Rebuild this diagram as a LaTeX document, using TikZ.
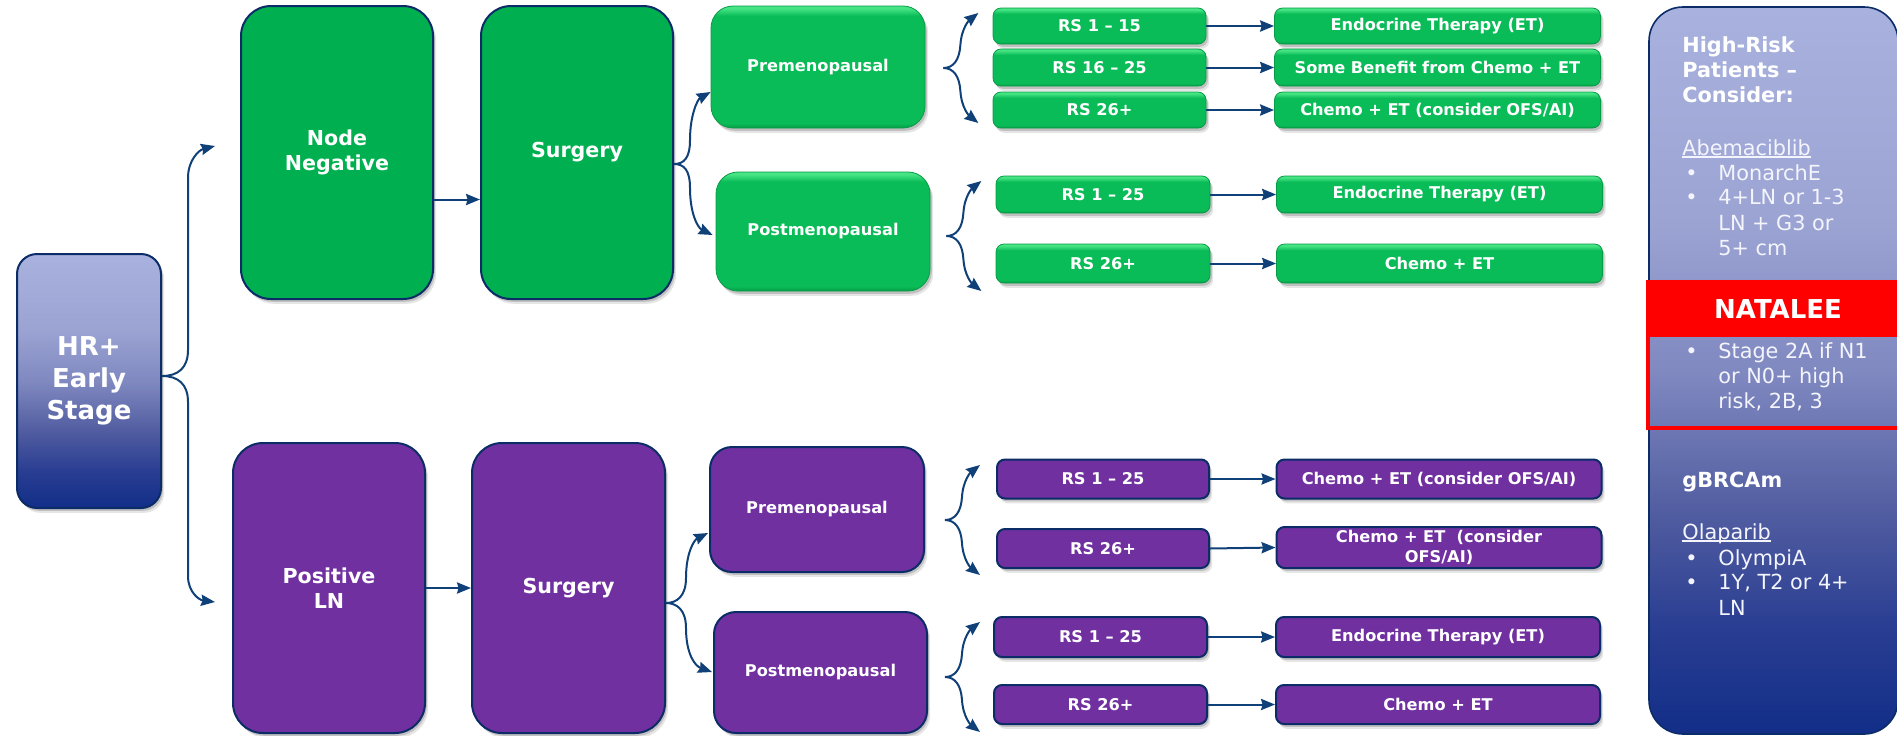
\documentclass[tikz,border=0pt]{standalone}
\usepackage{fontspec}
\setmainfont{DejaVu Sans}
\usetikzlibrary{arrows.meta,shadows,calc}

\definecolor{navyline}{RGB}{12,44,104}
\definecolor{arrowblue}{RGB}{16,64,120}
\definecolor{gbig}{RGB}{0,176,80}
\definecolor{gmain}{RGB}{10,188,88}
\definecolor{glight}{RGB}{70,228,132}
\definecolor{gdark}{RGB}{6,156,70}
\definecolor{pmain}{RGB}{112,48,160}
\definecolor{lavtop}{RGB}{169,178,222}
\definecolor{lav2}{RGB}{155,163,211}
\definecolor{lav3}{RGB}{128,137,192}
\definecolor{lav4}{RGB}{80,92,160}
\definecolor{lav5}{RGB}{42,62,146}
\definecolor{navybot}{RGB}{18,46,136}
\definecolor{paneltext}{RGB}{244,245,252}

% lavender-to-navy fade used by the stage box and the side panel
\pgfdeclareverticalshading{stagefade}{100bp}{color(0bp)=(navybot); color(25bp)=(navybot); color(32.5bp)=(lav5); color(40bp)=(lav4); color(50bp)=(lav3); color(60bp)=(lav2); color(75bp)=(lavtop); color(100bp)=(lavtop)}
% bevelled green for the small result boxes
\pgfdeclareverticalshading{greenbevel}{100bp}{color(0bp)=(gdark); color(25bp)=(gdark); color(29bp)=(gmain); color(67bp)=(gmain); color(73bp)=(glight); color(75bp)=(glight); color(100bp)=(glight)}
\pgfdeclareverticalshading{greenbeveltall}{100bp}{color(0bp)=(gdark); color(25bp)=(gdark); color(27bp)=(gmain); color(71bp)=(gmain); color(74bp)=(glight); color(75bp)=(glight); color(100bp)=(glight)}

\newcommand\ulword[1]{\setbox0=\hbox{#1}\rlap{\raisebox{-1.3pt}{\rule{\wd0}{0.6pt}}}\box0}

% curly fork: one start point, an upper and a lower arrow
\newcommand\fork[1]{%
  \draw[arr] (#1) .. controls +(10,0) and +(-1,15) .. ++(17,-23) .. controls +(1,-17) and +(-9,7) .. ++(18,-32);
  \draw[arr] (#1) .. controls +(10,0) and +(-1,-15) .. ++(17,23) .. controls +(1,17) and +(-9,-7) .. ++(18,32);
}

\tikzset{
  sz/.style 2 args={minimum width=#1*0.5pt, minimum height=#2*0.5pt},
  softshadow/.style={
    drop shadow={shadow xshift=1.6pt, shadow yshift=-2.4pt, opacity=0.10, fill=black},
    drop shadow={shadow xshift=0.9pt, shadow yshift=-1.4pt, opacity=0.16, fill=black}},
  arr/.style={draw=arrowblue, line width=1pt, -{Stealth[length=7pt,width=5.6pt,inset=0.8pt]}},
  bigbox/.style={draw=navyline, line width=1pt, rounded corners=15pt, text=white, align=center,
    font=\bfseries\fontsize{10.3}{12.5}\selectfont, inner sep=0pt, softshadow},
  gbigbox/.style={bigbox, fill=gbig},
  pbigbox/.style={bigbox, fill=pmain},
  hrbox/.style={draw=navyline, line width=1pt, rounded corners=10pt, shade, shading=stagefade,
    text=white, align=center, font=\bfseries\fontsize{13}{16}\selectfont, inner sep=0pt, softshadow},
  smallbox/.style={text=white, align=center, font=\bfseries\fontsize{8.1}{10}\selectfont, inner sep=0pt, softshadow},
  gmeno/.style={smallbox, rounded corners=11pt, shade, shading=greenbeveltall, draw=gdark, line width=0.4pt},
  pmeno/.style={smallbox, rounded corners=11pt, fill=pmain, draw=navyline, line width=1pt},
  grs/.style={smallbox, rounded corners=4pt, shade, shading=greenbevel, draw=gdark, line width=0.4pt},
  prs/.style={smallbox, rounded corners=4pt, fill=pmain, draw=navyline, line width=1pt},
  ptxt/.style={anchor=base west, inner sep=0pt, text=paneltext, font=\fontsize{10.4}{12.5}\selectfont},
  pbold/.style={ptxt, text=white, font=\bfseries\fontsize{10.4}{12.5}\selectfont},
}

\begin{document}
\begin{tikzpicture}[x=0.5pt, y=-0.5pt]
\useasboundingbox (0,0) rectangle (1897,735);

% ---- stage and main branches ----
\node[hrbox, sz={144}{254}] (hr) at (89,381) {HR+\\Early\\Stage};
\node[gbigbox, sz={192}{293}] (nn) at (337,152.5) {Node\\Negative};
\node[gbigbox, sz={192}{293}] (s1) at (577,152.5) {Surgery};
\node[pbigbox, sz={192}{290}] (pl) at (329,588) {Positive\\LN};
\node[pbigbox, sz={193}{290}] (s2) at (568.5,588) {Surgery};

% ---- menopausal status ----
\node[gmeno, sz={214}{122}] (pre1) at (818,67) {Premenopausal};
\node[gmeno, sz={214}{119}] (post1) at (823,231.5) {Postmenopausal};
\node[pmeno, sz={214}{125}] (pre2) at (817,509.5) {Premenopausal};
\node[pmeno, sz={213}{121}] (post2) at (820.5,672.5) {Postmenopausal};

% ---- recurrence score and therapy, node negative ----
\node[grs, sz={213}{36}] (a1) at (1099.5,26) {RS 1 – 15};
\node[grs, sz={213}{37}] (a2) at (1099.5,67.5) {RS 16 – 25};
\node[grs, sz={213}{36}] (a3) at (1099.5,110) {RS 26+};
\node[grs, sz={326}{36}] (e1) at (1437.5,26) {Endocrine Therapy (ET)};
\node[grs, sz={326}{37}] (e2) at (1437.5,67.5) {Some Benefit from Chemo + ET};
\node[grs, sz={326}{36}] (e3) at (1437.5,110) {Chemo + ET (consider OFS/AI)};
\node[grs, sz={214}{37}] (b1) at (1103,194.5) {RS 1 – 25};
\node[grs, sz={214}{39}] (b2) at (1103,263.5) {RS 26+};
\node[grs, sz={326}{37}] (f1) at (1439.5,194.5) {Endocrine Therapy (ET)};
\node[grs, sz={326}{39}] (f2) at (1439.5,263.5) {Chemo + ET};

% ---- recurrence score and therapy, positive LN ----
\node[prs, sz={212}{39}] (c1) at (1103,479) {RS 1 – 25};
\node[prs, sz={212}{39}] (c2) at (1103,548.5) {RS 26+};
\node[prs, sz={325}{39}] (g1) at (1439,479) {Chemo + ET (consider OFS/AI)};
\node[prs, sz={325}{41}] (g2) at (1439,547.5) {Chemo + ET\ \ (consider\\OFS/AI)};
\node[prs, sz={213}{40}] (d1) at (1100.5,637) {RS 1 – 25};
\node[prs, sz={213}{39}] (d2) at (1100.5,704.5) {RS 26+};
\node[prs, sz={324}{40}] (h1) at (1438,637) {Endocrine Therapy (ET)};
\node[prs, sz={324}{39}] (h2) at (1438,704.5) {Chemo + ET};

% ---- connectors ----
\coordinate (hrf) at ($(hr.east)+(0,-5)$);
\coordinate (nnin) at ($(nn.west)+(-25,-6.5)$);
\coordinate (plin) at ($(pl.west)+(-17,14)$);
\draw[arr] (hrf) .. controls (178,376) and (188,368) .. (188,350) -- (188,178)
  .. controls (188,160) and (199,150) .. (nnin);
\draw[arr] (hrf) .. controls (178,376) and (188,384) .. (188,402) -- (188,576)
  .. controls (188,592) and (199,600) .. (plin);

\draw[arr] ($(nn.east)+(0,47)$) -- ($(s1.west)+(0,47)$);
\draw[arr] (pl.east) -- (s2.west);

\coordinate (s1f) at ($(s1.east)+(0,11.5)$);
\coordinate (pre1in) at ($(pre1.west)+(0,25)$);
\coordinate (post1in) at ($(post1.west)+(-3,3.5)$);
\draw[arr] (s1f) .. controls (684,164) and (690,158) .. (690,140)
  .. controls (690,114) and (698,99) .. (pre1in);
\draw[arr] (s1f) .. controls (684,164) and (690,170) .. (690,188)
  .. controls (690,214) and (698,228) .. (post1in);

\coordinate (s2f) at ($(s2.east)+(0,15)$);
\coordinate (pre2in) at ($(pre2.west)+(-1,23.5)$);
\coordinate (post2in) at ($(post2.west)+(-1,-0.5)$);
\draw[arr] (s2f) .. controls (677,603) and (686,596) .. (686,578)
  .. controls (686,553) and (694,540) .. (pre2in);
\draw[arr] (s2f) .. controls (677,603) and (686,610) .. (686,628)
  .. controls (686,654) and (695,666) .. (post2in);

\coordinate (pre1f) at ($(pre1.east)+(18,1)$);
\coordinate (post1f) at ($(post1.east)+(16,4.5)$);
\coordinate (pre2f) at ($(pre2.east)+(20,10.5)$);
\coordinate (post2f) at ($(post2.east)+(17,4.5)$);
\fork{pre1f}
\fork{post1f}
\fork{pre2f}
\fork{post2f}

\foreach \r/\t in {a1/e1,a2/e2,a3/e3,b1/f1,b2/f2,c1/g1,c2/g2,d1/h1,d2/h2}
  \draw[arr] (\r.east) -- (\t.west);

% ---- side panel ----
\node[draw=navyline, line width=0.8pt, rounded corners=17pt, shade, shading=stagefade,
  sz={249}{727}, inner sep=0pt] (rp) at (1773.5,370.5) {};
\node[fill=red, sz={264}{56}, inner sep=0pt, text=white,
  font=\bfseries\fontsize{13}{15}\selectfont] (nat) at (1778,309) {NATALEE};
\node[draw=red, line width=1.6pt, sz={260}{146}, inner sep=0pt] (natframe) at (1778,355) {};

\node[pbold] (hd1) at (1682,52.5) {High-Risk};
\node[pbold] (hd2) at (1682,77.5) {Patients –};
\node[pbold] (hd3) at (1682,102.5) {Consider:};
\node[ptxt] (abe) at (1682,155) {\ulword{Abemaciblib}};
\node[ptxt] (bu1) at (1685,180) {•};
\node[ptxt] (m1) at (1718,180) {MonarchE};
\node[ptxt] (bu2) at (1685,204) {•};
\node[ptxt] (m2) at (1718,204) {4+LN or 1-3};
\node[ptxt] (m3) at (1718,230) {LN + G3 or};
\node[ptxt] (m4) at (1718,255) {5+ cm};
\node[ptxt] (bu3) at (1685,358) {•};
\node[ptxt] (n1) at (1718,358) {Stage 2A if N1};
\node[ptxt] (n2) at (1718,383) {or N0+ high};
\node[ptxt] (n3) at (1718,408) {risk, 2B, 3};
\node[pbold] (gb) at (1682,487) {gBRCAm};
\node[ptxt] (ola) at (1682,539) {\ulword{Olaparib}};
\node[ptxt] (bu4) at (1685,565) {•};
\node[ptxt] (o1) at (1718,565) {OlympiA};
\node[ptxt] (bu5) at (1685,589) {•};
\node[ptxt] (o2) at (1718,589) {1Y, T2 or 4+};
\node[ptxt] (o3) at (1718,615) {LN};
\end{tikzpicture}
\end{document}
